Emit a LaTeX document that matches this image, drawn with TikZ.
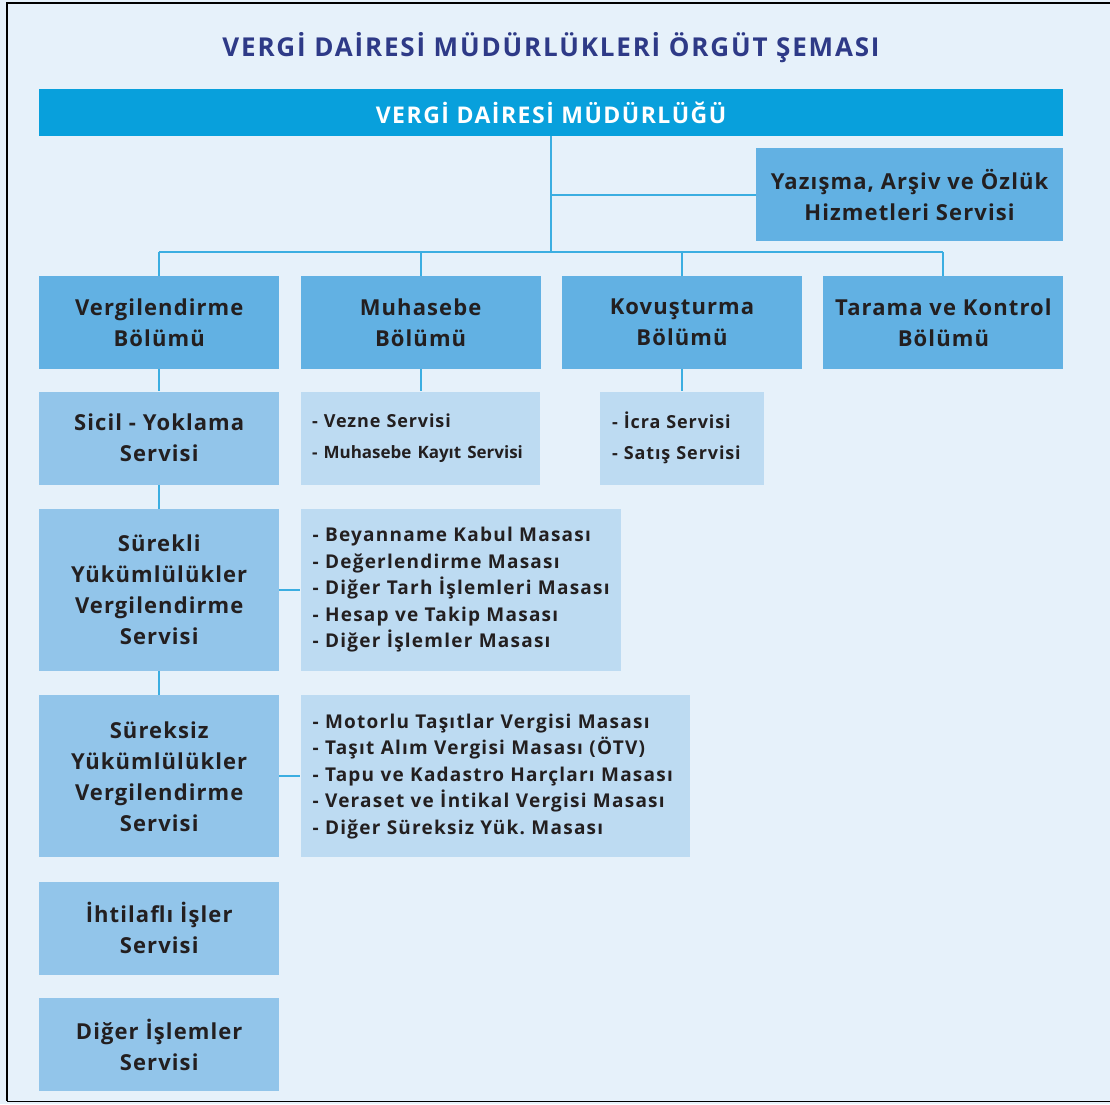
\documentclass[tikz,border=0pt]{standalone}
\usepackage{fontspec}
\setmainfont{Open Sans}
\usetikzlibrary{positioning}
\definecolor{pagebg}{HTML}{E6F1FA}
\definecolor{titleblue}{HTML}{2E3A87}
\definecolor{barblue}{HTML}{08A0DC}
\definecolor{deptblue}{HTML}{62B1E3}
\definecolor{svcblue}{HTML}{92C5EA}
\definecolor{listblue}{HTML}{BDDBF2}
\definecolor{lineblue}{HTML}{3BAEE1}
\definecolor{ink}{HTML}{231F20}
\frenchspacing
\begin{document}
\begin{tikzpicture}[x=1pt,y=-1pt, node distance=23pt and 21pt,
  every node/.style={text=ink},
  dept/.style={fill=deptblue,align=center,inner sep=0pt,minimum width=240pt,minimum height=93pt,font=\fontsize{22}{31}\selectfont\bfseries\addfontfeature{LetterSpace=5}},
  svc/.style={dept,fill=svcblue},
  listbox/.style={fill=listblue,align=left,inner xsep=12pt,inner ysep=0pt,font=\fontsize{19}{26.5}\selectfont\bfseries\addfontfeature{LetterSpace=6.5}},
  link/.style={draw=lineblue,line width=2pt}]
\useasboundingbox (0,0) rectangle (1110,1104);
\fill[pagebg] (0,0) rectangle (1110,1104);
\draw[line width=2pt] (7,1101) -- (7,3) -- (1110,3);
\draw[line width=1pt] (7,1101) -- (1110,1101);

\node[font=\fontsize{26}{30}\selectfont\bfseries\addfontfeature{LetterSpace=7},text=titleblue] (title) at (551,48) {VERGİ DAİRESİ MÜDÜRLÜKLERİ ÖRGÜT ŞEMASI};
\node[fill=barblue,text=white,inner sep=0pt,minimum width=1024pt,minimum height=47pt,font=\fontsize{23}{27}\selectfont\bfseries\addfontfeature{LetterSpace=6.5}] (bar) at (551,112.5) {VERGİ DAİRESİ MÜDÜRLÜĞÜ};
\node[dept,minimum width=307pt,anchor=north east] (yaz) at ([yshift=-12pt]bar.south east) {Yazışma, Arşiv ve Özlük\\Hizmetleri Servisi};

% bolumler
\node[dept,anchor=north west] (vergi) at (39,276) {Vergilendirme\\Bölümü};
\node[dept,right=of vergi] (muh) {Muhasebe\\Bölümü};
\node[dept,right=of muh] (kov) {Kovuşturma\\Bölümü};
\node[dept,right=of kov] (tarama) {Tarama ve Kontrol\\Bölümü};

% servisler
\node[svc,below=22pt of vergi] (sicil) {Sicil - Yoklama\\Servisi};
\node[svc,below=24pt of sicil,minimum height=162pt] (surekli) {Sürekli\\Yükümlülükler\\Vergilendirme\\Servisi};
\node[svc,below=24pt of surekli,minimum height=162pt] (sureksiz) {Süreksiz\\Yükümlülükler\\Vergilendirme\\Servisi};
\node[svc,below=24pt of sureksiz] (ihtilaf) {İhtilaflı İşler\\Servisi};
\node[svc,below=23pt of ihtilaf] (diger) {Diğer İşlemler\\Servisi};

% masalar
\node[listbox,below=22pt of muh,text width=217pt,minimum height=93pt,inner xsep=11pt,font=\fontsize{18}{31}\selectfont\bfseries\addfontfeature{LetterSpace=5}] (vezne) {- Vezne Servisi\\{\fontsize{17}{31}\selectfont\addfontfeature{LetterSpace=0}- Muhasebe Kayıt Servisi}};
\node[listbox,below=22pt of kov,text width=140pt,minimum height=93pt,font=\fontsize{18}{31}\selectfont\bfseries\addfontfeature{LetterSpace=5}] (icra) {- İcra Servisi\\- Satış Servisi};
\node[listbox,right=of surekli,text width=296pt,minimum height=162pt] (surekliL) {- Beyanname Kabul Masası\\- Değerlendirme Masası\\- Diğer Tarh İşlemleri Masası\\- Hesap ve Takip Masası\\- Diğer İşlemler Masası};
\node[listbox,right=of sureksiz,text width=365pt,minimum height=162pt] (sureksizL) {- Motorlu Taşıtlar Vergisi Masası\\- Taşıt Alım Vergisi Masası (ÖTV)\\- Tapu ve Kadastro Harçları Masası\\- Veraset ve İntikal Vergisi Masası\\- Diğer Süreksiz Yük. Masası};

% baglantilar
\coordinate (bus) at ([yshift=24pt]vergi.north);
\draw[link] (bar.south) -- (bar.south |- bus);
\draw[link] (bar.south |- yaz.west) -- (yaz.west);
\draw[link] (vergi.north |- bus) -- (tarama.north |- bus);
\foreach \b in {vergi,muh,kov,tarama} \draw[link] (\b.north |- bus) -- (\b.north);
\draw[link] (vergi) -- (sicil);
\draw[link] (sicil) -- (surekli);
\draw[link] (surekli) -- (sureksiz);
\draw[link] (muh) -- (vezne);
\draw[link] (kov) -- (icra);
\draw[link] (surekli) -- (surekliL);
\draw[link] (sureksiz) -- (sureksizL);
\end{tikzpicture}
\end{document}
